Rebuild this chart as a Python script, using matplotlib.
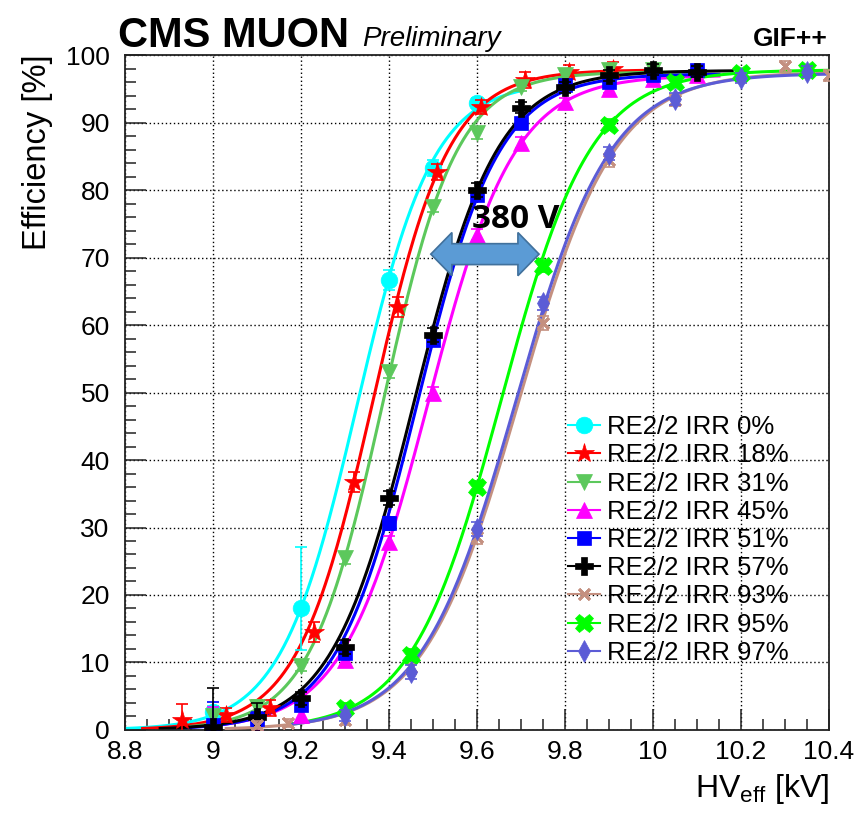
#%% --- Import Required Packages ---

import numpy as np
import matplotlib.pyplot as plt
from matplotlib.lines import Line2D
from matplotlib.patches import Polygon

plt.rcParams["font.family"] = ["Liberation Sans", "DejaVu Sans"]
plt.rcParams["mathtext.fontset"] = "custom"
plt.rcParams["mathtext.rm"] = "Liberation Sans"
plt.rcParams["mathtext.it"] = "Liberation Sans:italic"

#%% --- Data ---

labels = ["RE2/2 IRR 0%", "RE2/2 IRR 18%", "RE2/2 IRR 31%", "RE2/2 IRR 45%",
          "RE2/2 IRR 51%", "RE2/2 IRR 57%", "RE2/2 IRR 93%", "RE2/2 IRR 95%",
          "RE2/2 IRR 97%"]

hv_0 = [9.0, 9.2, 9.4, 9.5, 9.6]
eff_0 = [2.6, 18.1, 66.7, 83.3, 92.9]
err_lo_0 = [1.0, 6.2, 1.5, 1.2, 0.8]
err_hi_0 = [1.0, 9.0, 1.5, 1.2, 0.8]

hv_18 = [8.93, 9.03, 9.13, 9.23, 9.32, 9.42, 9.51, 9.61, 9.71, 9.81, 9.91]
eff_18 = [1.5, 2.2, 3.3, 14.5, 36.7, 62.7, 82.7, 92.3, 96.3, 97.5, 98.0]
err_18 = [2.3, 1.0, 1.2, 1.5, 1.5, 1.5, 1.2, 1.0, 1.2, 1.0, 1.0]

hv_31 = [9.0, 9.1, 9.2, 9.3, 9.4, 9.5, 9.6, 9.7, 9.8, 9.9, 10.0]
eff_31 = [2.0, 3.4, 9.5, 25.5, 53.0, 77.5, 88.4, 95.3, 97.0, 97.8, 97.8]
err_31 = [0.8, 1.0, 0.8, 0.9, 0.9, 0.8, 0.8, 0.7, 0.7, 0.7, 0.7]

hv_45 = [9.0, 9.1, 9.2, 9.3, 9.4, 9.5, 9.6, 9.7, 9.8, 9.9, 10.0, 10.1]
eff_45 = [0.2, 0.4, 2.2, 10.4, 27.8, 49.9, 73.4, 87.0, 93.0, 95.0, 96.5, 97.0]
err_45 = [3.2, 0.8, 0.8, 0.9, 0.9, 0.9, 0.8, 0.8, 0.7, 0.7, 0.7, 0.7]

hv_51 = [9.0, 9.1, 9.2, 9.3, 9.4, 9.5, 9.6, 9.7, 9.8, 9.9, 10.0, 10.1]
eff_51 = [0.8, 1.6, 3.7, 11.4, 30.6, 57.8, 79.3, 89.9, 95.5, 96.0, 97.0, 97.8]
err_51 = [3.3, 1.0, 0.8, 0.9, 0.9, 0.9, 0.8, 0.8, 0.7, 0.7, 0.7, 0.7]

hv_57 = [9.0, 9.1, 9.2, 9.3, 9.4, 9.5, 9.6, 9.7, 9.8, 9.9, 10.0, 10.1]
eff_57 = [0.5, 1.9, 4.7, 12.3, 34.4, 58.5, 80.0, 92.2, 95.2, 97.0, 97.8, 97.5]
err_57 = [5.7, 2.1, 1.0, 1.0, 1.0, 1.0, 1.0, 0.8, 0.8, 0.8, 0.8, 0.8]

hv_93 = [9.1, 9.17, 9.3, 9.45, 9.6, 9.75, 9.9, 10.05, 10.2, 10.3, 10.4]
eff_93 = [0.8, 1.0, 1.5, 9.3, 28.6, 60.3, 84.4, 93.3, 97.0, 98.3, 97.0]
err_93 = [0.6, 0.6, 0.8, 1.0, 1.0, 1.0, 1.0, 0.9, 0.8, 0.8, 0.8]

hv_95 = [9.3, 9.45, 9.6, 9.75, 9.9, 10.05, 10.2, 10.35]
eff_95 = [3.2, 11.1, 36.0, 68.8, 89.7, 96.0, 97.3, 97.8]
err_95 = [0.8, 0.9, 0.9, 0.9, 0.8, 0.7, 0.7, 0.7]

hv_97 = [9.3, 9.45, 9.6, 9.75, 9.9, 10.05, 10.2, 10.35]
eff_97 = [2.2, 8.6, 29.8, 63.2, 85.4, 93.5, 96.6, 97.5]
err_97 = [0.8, 1.0, 1.0, 1.0, 1.0, 0.9, 0.8, 0.8]

# sigmoid fit parameters: plateau, HV at 50%, slope, fit range
fit_plateau = [96.0, 97.8, 97.5, 97.0, 97.2, 97.7, 97.5, 97.8, 97.3]
fit_hv50 = [9.327, 9.364, 9.387, 9.489, 9.465, 9.458, 9.695, 9.655, 9.688]
fit_slope = [11.5, 11.6, 11.9, 10.2, 10.8, 10.6, 9.2, 9.8, 9.3]
fit_lo = [8.8, 8.84, 8.95, 9.0, 8.9, 8.88, 9.03, 9.17, 9.17]
fit_hi = [9.7, 10.0, 10.1, 10.15, 10.15, 10.18, 10.4, 10.4, 10.4]

hv_points = [hv_0, hv_18, hv_31, hv_45, hv_51, hv_57, hv_93, hv_95, hv_97]
eff_points = [eff_0, eff_18, eff_31, eff_45, eff_51, eff_57, eff_93, eff_95, eff_97]
err_lo = [err_lo_0, err_18, err_31, err_45, err_51, err_57, err_93, err_95, err_97]
err_hi = [err_hi_0, err_18, err_31, err_45, err_51, err_57, err_93, err_95, err_97]

colors = ["#00FFFF", "#FF0000", "#5CC85C", "#FF00FF", "#0000FF",
          "#000000", "#C49080", "#00FF00", "#5C5CD6"]
markers = ["o", "*", "v", "^", "s", "P", (4, 2, 45), "X", "d"]
msizes = [12, 15, 12, 12, 10, 13, 11, 13, 11]

#%% --- Figure ---

fig = plt.figure(figsize=(8.59, 8.15), dpi=100)
ax = fig.add_axes([0.1455, 0.1043, 0.8196, 0.8282])

# --- Fits and points ---
for i in range(len(labels)):
    xs = np.linspace(fit_lo[i], fit_hi[i], 300)
    ys = fit_plateau[i] / (1 + np.exp(-fit_slope[i] * (xs - fit_hv50[i])))
    ax.plot(xs, ys, color=colors[i], lw=2.2, zorder=2 + i * 0.1)

    mew = 2.0 if markers[i] == (4, 2, 45) else 0.5
    ax.errorbar(hv_points[i], eff_points[i],
                yerr=[err_lo[i], err_hi[i]],
                fmt="none", ecolor=colors[i], elinewidth=1.2,
                capsize=4, capthick=1.2, zorder=3 + i * 0.1)
    ax.plot(hv_points[i], eff_points[i], ls="none",
            marker=markers[i], ms=msizes[i], color=colors[i],
            mec=colors[i], mew=mew, zorder=3 + i * 0.1)

# --- Axes style ---
ax.set_xlim(8.8, 10.4)
ax.set_ylim(0, 100)
ax.set_xticks(np.arange(8.8, 10.41, 0.2))
ax.set_xticklabels(["8.8", "9", "9.2", "9.4", "9.6", "9.8", "10", "10.2", "10.4"])
ax.set_xticks(np.arange(8.8, 10.41, 0.05), minor=True)
ax.set_yticks(np.arange(0, 101, 10))
ax.set_yticks(np.arange(0, 101, 2), minor=True)

ax.tick_params(which="both", direction="in", top=False, right=False,
               labelsize=19, color="#222222")
ax.tick_params(which="major", length=15, width=1.1)
ax.tick_params(which="minor", length=8, width=1.1)
ax.tick_params(axis="x", pad=7)
ax.tick_params(axis="y", pad=11)

ax.grid(True, which="major", color="black", lw=1.0, linestyle=(0, (1, 1.9)))
ax.set_axisbelow(True)
for spine in ax.spines.values():
    spine.set_linewidth(1.3)
    spine.set_color("#222222")

# --- Labels ---
ax.text(-0.102, 1.0015, "Efficiency [%]", rotation=90,
        rotation_mode="anchor", ha="right", va="bottom",
        fontsize=23.5, transform=ax.transAxes)
ax.text(1.0, -0.0993, r"HV$_{\rm eff}$ [kV]", ha="right", va="baseline",
        fontsize=23, transform=ax.transAxes)

fig.text(118 / 859, 1 - 47 / 815, "CMS MUON", fontsize=30,
         fontweight="bold", ha="left", va="baseline")
fig.text(362 / 859, 1 - 46 / 815, "Preliminary", fontsize=20,
         fontstyle="italic", ha="left", va="baseline")
fig.text(828 / 859, 1 - 46 / 815, "GIF++", fontsize=19,
         fontweight="bold", ha="right", va="baseline")

# --- 380 V double arrow ---
arrow_x0, arrow_x1 = 9.495, 9.741
arrow_y = 70.5
head_len = 0.048
head_half = 3.2
shaft_half = 1.55
verts = [(arrow_x0, arrow_y),
         (arrow_x0 + head_len, arrow_y + head_half),
         (arrow_x0 + head_len, arrow_y + shaft_half),
         (arrow_x1 - head_len, arrow_y + shaft_half),
         (arrow_x1 - head_len, arrow_y + head_half),
         (arrow_x1, arrow_y),
         (arrow_x1 - head_len, arrow_y - head_half),
         (arrow_x1 - head_len, arrow_y - shaft_half),
         (arrow_x0 + head_len, arrow_y - shaft_half),
         (arrow_x0 + head_len, arrow_y - head_half)]
ax.add_patch(Polygon(verts, closed=True, facecolor="#5B9BD5",
                     edgecolor="#41719C", lw=1.2, zorder=6))
ax.text(9.589, 74.4, "380 V", fontsize=24, fontweight="bold",
        family=["Open Sans", "DejaVu Sans"], ha="left", va="baseline", zorder=7)

# --- Legend ---
handles = []
for i in range(len(labels)):
    mew = 2.0 if markers[i] == (4, 2, 45) else 0.5
    handles.append(Line2D([], [], color=colors[i], lw=1.5, marker=markers[i],
                          ms=msizes[i], mec=colors[i], mew=mew))
ax.legend(handles, labels, loc="upper left", bbox_to_anchor=(0.629, 0.4666),
          frameon=False, fontsize=18.5, borderaxespad=0, borderpad=0,
          handlelength=1.25, handletextpad=0.27, labelspacing=0.165)

#%% --- Export ---

fig.savefig("out.png", dpi=100)
